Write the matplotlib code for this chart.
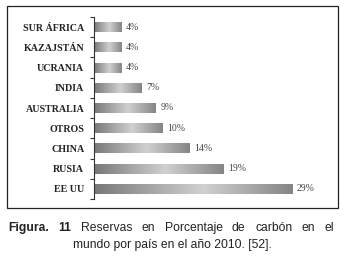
import numpy as np
import matplotlib.pyplot as plt
from matplotlib.colors import LinearSegmentedColormap
from matplotlib.patches import Rectangle

# data (top to bottom)
paises = ["SUR ÁFRICA", "KAZAJSTÁN", "UCRANIA", "INDIA", "AUSTRALIA",
          "OTROS", "CHINA", "RUSIA", "EE UU"]
porcentajes = [4, 4, 4, 7, 9, 10, 14, 19, 29]

W, H = 347, 256
fig = plt.figure(figsize=(W / 100, H / 100), dpi=100)
fig.patch.set_facecolor("white")

# frame around the chart
fig.patches.append(Rectangle((7 / W, 1 - 208 / H), 331 / W, 202 / H,
                             transform=fig.transFigure, fill=False,
                             edgecolor="#222222", lw=0.9))

ax = fig.add_axes([94 / W, 1 - 199 / H, 236 / W, 182 / H])
ypos = np.arange(len(paises))
bars = ax.barh(ypos, porcentajes, height=0.5, color="none", edgecolor="none")

# cylinder-like gray gradient inside each bar
cmap = LinearSegmentedColormap.from_list(
    "cyl", [(0.0, "#787878"), (0.55, "#d0d0d0"), (1.0, "#858585")])
grad = np.linspace(0, 1, 256).reshape(1, -1)
for b in bars:
    x0, y0 = b.get_x(), b.get_y()
    im = ax.imshow(grad, cmap=cmap, aspect="auto", interpolation="bilinear",
                   extent=[x0, x0 + b.get_width(), y0, y0 + b.get_height()],
                   zorder=2)
    im.set_clip_path(b)

for y, v in zip(ypos, porcentajes):
    ax.text(v + 0.7, y, f"{v}%", va="center", ha="left", fontsize=7,
            family="Liberation Serif", color="#444444")

ax.set_xlim(0, 236 / 6.83)
ax.set_ylim(len(paises) - 0.5, -0.5)
ax.set_yticks(ypos)
ax.set_yticklabels(paises, family="Liberation Serif", fontweight="bold",
                   fontsize=7.2, color="#222222")
ax.set_yticks(np.arange(len(paises) + 1) - 0.5, minor=True)
ax.tick_params(axis="y", which="major", length=0, pad=7)
ax.tick_params(axis="y", which="minor", length=3, width=0.8,
               color="#333333", direction="out")
ax.set_xticks([])
for s in ["top", "right", "bottom"]:
    ax.spines[s].set_visible(False)
ax.spines["left"].set_color("#333333")
ax.spines["left"].set_linewidth(0.8)

# caption, first line justified
fig.canvas.draw()
r = fig.canvas.get_renderer()
cap_font = dict(family="Liberation Sans", fontsize=8.7, color="#222222")
line1 = ["Figura.", "11", "Reservas", "en", "Porcentaje", "de", "carbón",
         "en", "el"]
bold_words = 2
y1 = 1 - 231 / H
items = []
total = 0
for i, w in enumerate(line1):
    t = fig.text(0, y1, w, ha="left", va="baseline",
                 fontweight="bold" if i < bold_words else "normal",
                 **cap_font)
    wpx = t.get_window_extent(r).width
    items.append((t, wpx))
    total += wpx
left, right = 8, 334
gap = (right - left - total) / (len(line1) - 1)
x = left
for t, wpx in items:
    t.set_x(x / W)
    x += wpx + gap

fig.text(172 / W, 1 - 248 / H, "mundo por país en el año 2010. [52].",
         ha="center", va="baseline", **cap_font)

fig.savefig("out.png", dpi=100, facecolor="white")
